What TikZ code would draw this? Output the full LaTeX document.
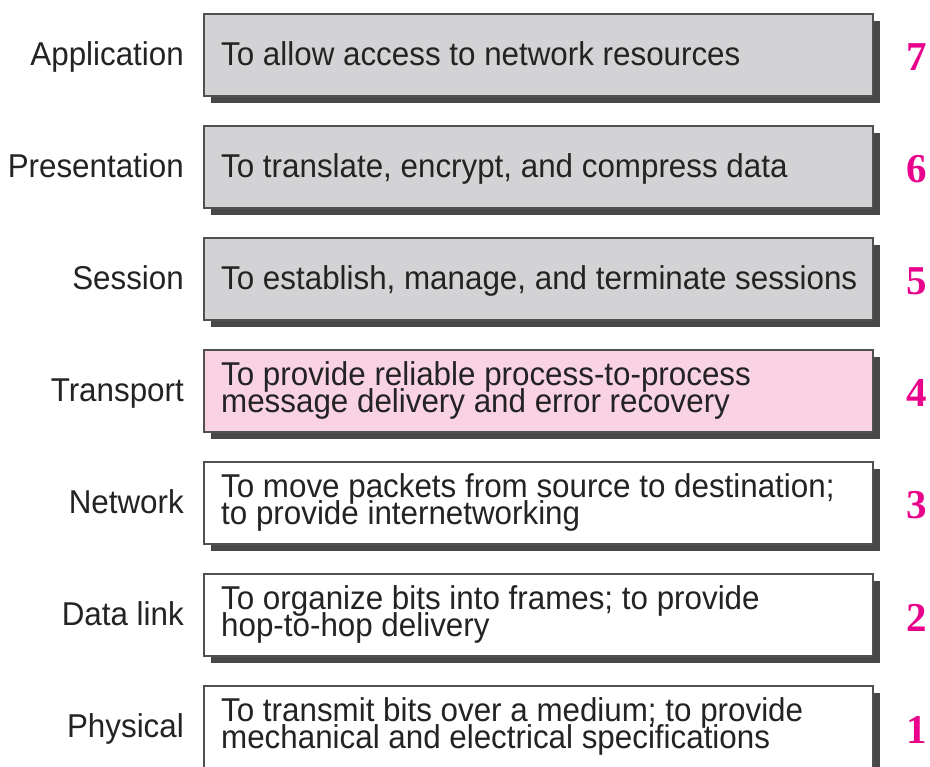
\documentclass[tikz,border=0pt]{standalone}
\usepackage{fontspec}
\setmainfont{Liberation Sans}
\newfontfamily\condsans[FakeStretch=0.95]{Liberation Sans}
\newfontfamily\numfont{Liberation Serif}
\usetikzlibrary{shadows}
\definecolor{boxgray}{RGB}{211,211,213}
\definecolor{boxpink}{RGB}{249,210,227}
\definecolor{numpink}{RGB}{233,0,139}
\definecolor{edgegray}{RGB}{80,80,80}
\definecolor{shadegray}{RGB}{72,72,72}
\definecolor{txtgray}{RGB}{35,35,35}
\newcommand\mytightlines{\lineskiplimit=-100pt\relax\lineskip=0pt\relax}
\tikzset{
  layerbox/.style={draw=edgegray, line width=2pt, anchor=north west,
    minimum width=669pt, minimum height=82pt, inner sep=0pt,
    drop shadow={shadow xshift=7pt, shadow yshift=-7pt, fill=shadegray, opacity=1}},
  graybox/.style={layerbox, fill=boxgray},
  pinkbox/.style={layerbox, fill=boxpink},
  whitebox/.style={layerbox, fill=white},
  boxtext/.style={anchor=base west, inner sep=0pt, text=txtgray,
    font=\condsans\fontsize{33}{27.4}\selectfont\mytightlines},
  layerlabel/.style={anchor=base east, inner sep=0pt, text=txtgray,
    font=\condsans\fontsize{33}{36}\selectfont},
  layernum/.style={anchor=center, inner sep=0pt, text=numpink,
    font=\numfont\bfseries\fontsize{41}{44}\selectfont}
}
\begin{document}
\begin{tikzpicture}[x=1pt,y=-1pt]
\useasboundingbox[fill=white] (0,0) rectangle (930,767);

% boxes
\node[graybox]  (b7) at (203,13)  {};
\node[graybox]  (b6) at (203,125) {};
\node[graybox]  (b5) at (203,237) {};
\node[pinkbox]  (b4) at (203,349) {};
\node[whitebox] (b3) at (203,461) {};
\node[whitebox] (b2) at (203,573) {};
\node[whitebox] (b1) at (203,685) {};

% box texts
\node[boxtext] (t7) at ([xshift=18pt,yshift=-10.3pt]b7.west) {To allow access to network resources};
\node[boxtext] (t6) at ([xshift=18pt,yshift=-10.3pt]b6.west) {To translate, encrypt, and compress data};
\node[boxtext] (t5) at ([xshift=18pt,yshift=-10.3pt]b5.west) {To establish, manage, and terminate sessions};
\node[boxtext] (t4) at ([xshift=18pt,yshift=5.6pt]b4.west) {\parbox[t]{630pt}{\mytightlines To provide reliable process-to-process\\message delivery and error recovery}};
\node[boxtext] (t3) at ([xshift=18pt,yshift=5.6pt]b3.west) {\parbox[t]{630pt}{\mytightlines To move packets from source to destination;\\to provide internetworking}};
\node[boxtext] (t2) at ([xshift=18pt,yshift=5.6pt]b2.west) {\parbox[t]{630pt}{\mytightlines To organize bits into frames; to provide\\hop-to-hop delivery}};
\node[boxtext] (t1) at ([xshift=18pt,yshift=5.6pt]b1.west) {\parbox[t]{630pt}{\mytightlines To transmit bits over a medium; to provide\\mechanical and electrical specifications}};

% layer names
\node[layerlabel] (l7) at ([xshift=-19pt,yshift=-10.3pt]b7.west) {Application};
\node[layerlabel] (l6) at ([xshift=-19pt,yshift=-10.3pt]b6.west) {Presentation};
\node[layerlabel] (l5) at ([xshift=-19pt,yshift=-10.3pt]b5.west) {Session};
\node[layerlabel] (l4) at ([xshift=-19pt,yshift=-10.3pt]b4.west) {Transport};
\node[layerlabel] (l3) at ([xshift=-19pt,yshift=-10.3pt]b3.west) {Network};
\node[layerlabel] (l2) at ([xshift=-19pt,yshift=-10.3pt]b2.west) {Data link};
\node[layerlabel] (l1) at ([xshift=-19pt,yshift=-10.3pt]b1.west) {Physical};

% layer numbers
\node[layernum] (n7) at ([xshift=43pt,yshift=-2.5pt]b7.east) {7};
\node[layernum] (n6) at ([xshift=43pt,yshift=-2.5pt]b6.east) {6};
\node[layernum] (n5) at ([xshift=43pt,yshift=-2.5pt]b5.east) {5};
\node[layernum] (n4) at ([xshift=43pt,yshift=-2.5pt]b4.east) {4};
\node[layernum] (n3) at ([xshift=43pt,yshift=-2.5pt]b3.east) {3};
\node[layernum] (n2) at ([xshift=43pt,yshift=-2.5pt]b2.east) {2};
\node[layernum] (n1) at ([xshift=43pt,yshift=-2.5pt]b1.east) {1};
\end{tikzpicture}
\end{document}
